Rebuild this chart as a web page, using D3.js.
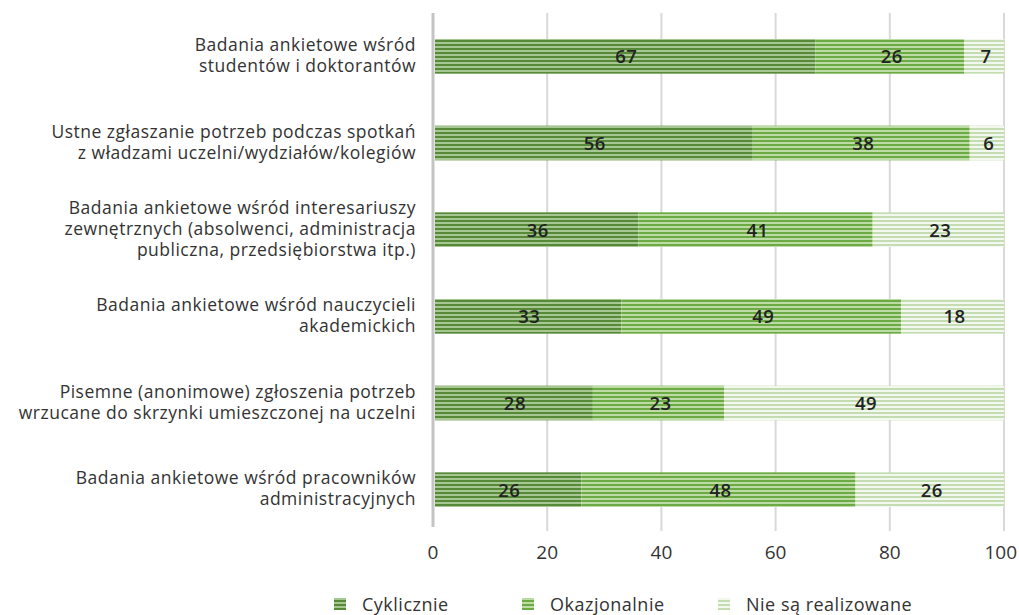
<!DOCTYPE html>
<html>
<head>
<meta charset="utf-8">
<script src="https://d3js.org/d3.v7.min.js"></script>
<style>
  body { margin: 0; background: #fff; }
  text { font-family: "Open Sans", sans-serif; }
</style>
</head>
<body>
<div id="chart"></div>
<script>
// categories (top to bottom), each label split into lines
var categories = [
  ["Badania ankietowe wśród", "studentów i doktorantów"],
  ["Ustne zgłaszanie potrzeb podczas spotkań", "z władzami uczelni/wydziałów/kolegiów"],
  ["Badania ankietowe wśród interesariuszy", "zewnętrznych (absolwenci, administracja", "publiczna, przedsiębiorstwa itp.)"],
  ["Badania ankietowe wśród nauczycieli", "akademickich"],
  ["Pisemne (anonimowe) zgłoszenia potrzeb", "wrzucane do skrzynki umieszczonej na uczelni"],
  ["Badania ankietowe wśród pracowników", "administracyjnych"]
];
var seriesNames = ["Cyklicznie", "Okazjonalnie", "Nie są realizowane"];
var cyklicznie   = [67, 56, 36, 33, 28, 26];
var okazjonalnie = [26, 38, 41, 49, 23, 48];
var nieSa        = [7, 6, 23, 18, 49, 26];
var xTicks = [0, 20, 40, 60, 80, 100];

// stripe colours for each series: [stripe, background]
var stripes = [["#568a38", "#a6c791"], ["#6cab43", "#bcdba5"], ["#c3dcb2", "#f2f8ee"]];

var W = 1019, H = 615;
var svg = d3.select("#chart").append("svg").attr("width", W).attr("height", H);

var defs = svg.append("defs");
stripes.forEach(function(c, i) {
  var p = defs.append("pattern").attr("id", "pat" + i)
    .attr("patternUnits", "userSpaceOnUse").attr("width", 8).attr("height", 4);
  p.append("rect").attr("width", 8).attr("height", 4).attr("fill", c[1]);
  p.append("rect").attr("y", 0).attr("width", 8).attr("height", 2).attr("fill", c[0]);
});

var x = d3.scaleLinear().domain([0, 100]).range([433, 1004]);
var y = d3.scaleBand().domain(d3.range(categories.length)).range([13, 533])
  .paddingInner(0.6).paddingOuter(0.3);

// gridlines
svg.append("g").selectAll("line").data(xTicks.slice(1)).enter().append("line")
  .attr("x1", function(d) { return x(d); }).attr("x2", function(d) { return x(d); })
  .attr("y1", 13).attr("y2", 531)
  .attr("stroke", "#d9d9d9").attr("stroke-width", 2);

// tick labels (last one pulled in so it stays inside the page)
svg.append("g").selectAll("text").data(xTicks).enter().append("text")
  .attr("x", function(d) { return d === 100 ? 1017 : x(d); }).attr("y", 559)
  .attr("text-anchor", function(d) { return d === 100 ? "end" : "middle"; })
  .attr("font-size", 19).attr("fill", "#333")
  .text(function(d) { return d; });

// stacked data
var rows = categories.map(function(c, i) {
  return [cyklicznie[i], okazjonalnie[i], nieSa[i]];
});

rows.forEach(function(vals, i) {
  var start = 0;
  vals.forEach(function(v, s) {
    var g = svg.append("g");
    g.append("rect")
      .attr("x", x(start) + (s === 0 ? 2 : 0))
      .attr("y", y(i))
      .attr("width", x(start + v) - x(start) - (s === 0 ? 2 : 0))
      .attr("height", y.bandwidth())
      .attr("fill", "url(#pat" + s + ")");
    g.append("text")
      .attr("x", x(start + v / 2) + 2).attr("y", y(i) + y.bandwidth() / 2 + 7)
      .attr("text-anchor", "middle").attr("font-size", 18.5).attr("font-weight", 600)
      .style("letter-spacing", "0.5px")
      .attr("fill", "#222").text(v);
    start += v;
  });
});

// vertical axis line
svg.append("line").attr("x1", 433).attr("x2", 433).attr("y1", 13).attr("y2", 527)
  .attr("stroke", "#c4c4c4").attr("stroke-width", 3);

// category labels
var lh = 21;
categories.forEach(function(lines, i) {
  var cy = y(i) + y.bandwidth() / 2;
  var top = cy - (lines.length - 1) * lh / 2 - 1;
  var t = svg.append("text").attr("text-anchor", "end").attr("font-size", 17.5)
    .style("letter-spacing", "0.5px").attr("fill", "#333");
  lines.forEach(function(l, k) {
    t.append("tspan").attr("x", 416).attr("y", top + k * lh + 6).text(l);
  });
});

// legend
var legX = [334, 522, 718];
seriesNames.forEach(function(n, s) {
  svg.append("rect").attr("x", legX[s]).attr("y", 598).attr("width", 12).attr("height", 12)
    .attr("fill", "url(#pat" + s + ")");
  svg.append("text").attr("x", legX[s] + 28).attr("y", 611).attr("font-size", 18)
    .style("letter-spacing", "0.5px").attr("fill", "#333").text(n);
});
</script>
</body>
</html>
